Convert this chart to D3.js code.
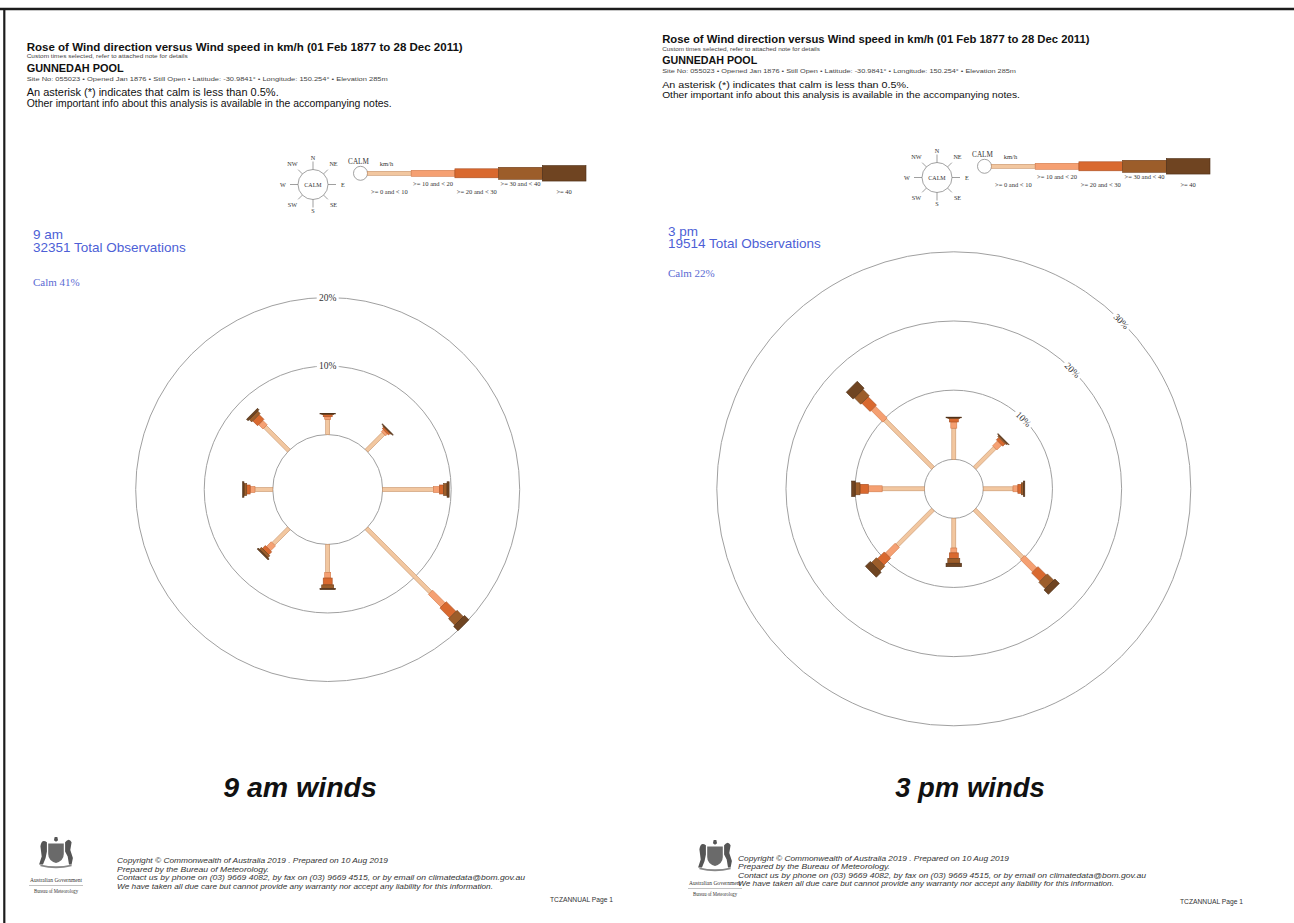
<!DOCTYPE html>
<html>
<head>
<meta charset="utf-8">
<title>Gunnedah Pool wind roses</title>
<script src="https://cdn.jsdelivr.net/npm/d3@7"></script>
<style>
  html, body { margin: 0; padding: 0; background: #fff; }
  svg { display: block; }
</style>
</head>
<body>
<svg id="chart" width="1294" height="923"></svg>
<script>
// ---- Data -------------------------------------------------------------
const directions = ["N", "NE", "E", "SE", "S", "SW", "W", "NW"];
const speedClasses = [">= 0 and < 10", ">= 10 and < 20", ">= 20 and < 30", ">= 30 and < 40", ">= 40"];

// Percentage of observations for each direction, split by speed class (km/h)
const wind9am = [
  [2.2, 0.4, 0.3, 0.1, 0.1],   // N
  [3.5, 0.4, 0.3, 0.1, 0.1],   // NE
  [7.4, 0.9, 0.6, 0.5, 0.3],   // E
  [13.2, 2.6, 2.0, 1.3, 0.9],  // SE
  [4.1, 0.8, 1.0, 0.5, 0.2],   // S
  [3.2, 1.0, 0.6, 0.4, 0.2],   // SW
  [2.6, 0.7, 0.5, 0.4, 0.2],   // W
  [4.9, 0.9, 1.0, 0.5, 0.3]    // NW
];
const wind3pm = [
  [4.5, 0.9, 0.5, 0.1, 0.1],   // N
  [4.1, 1.0, 0.5, 0.2, 0.1],   // NE
  [4.3, 0.7, 0.5, 0.3, 0.2],   // E
  [9.8, 2.5, 1.7, 1.3, 0.9],   // SE
  [4.3, 0.7, 0.8, 0.7, 0.5],   // S
  [7.3, 2.0, 1.4, 1.0, 1.0],   // SW
  [6.1, 2.0, 1.2, 0.7, 0.5],   // W
  [9.8, 2.4, 1.7, 1.3, 1.4]    // NW
];
const calmPct = [41, 22];
const totalObs = [32351, 19514];
const periodLabels = ["9 am", "3 pm"];
const panelTitles = ["9 am winds", "3 pm winds"];
const rings9am = [10, 20];
const rings3pm = [10, 20, 30];

const headerText = [
  "Rose of Wind direction versus Wind speed in km/h (01 Feb 1877 to 28 Dec 2011)",
  "Custom times selected, refer to attached note for details",
  "GUNNEDAH POOL",
  "Site No: 055023 \u2022 Opened Jan 1876 \u2022 Still Open  \u2022 Latitude: -30.9841\u00b0 \u2022 Longitude: 150.254\u00b0 \u2022 Elevation 285m",
  "An asterisk (*) indicates that calm is less than 0.5%.",
  "Other important info about this analysis is available in the accompanying notes."
];
const footerText = [
  "Copyright \u00a9 Commonwealth of Australia 2019 . Prepared on 10 Aug 2019",
  "Prepared by the Bureau of Meteorology.",
  "Contact us by phone on (03) 9669 4082, by fax on (03) 9669 4515, or by email on climatedata@bom.gov.au",
  "We have taken all due care but cannot provide any warranty nor accept any liability for this information."
];

// ---- Styles -----------------------------------------------------------
const SANS = "'Liberation Sans', Arial, Helvetica, sans-serif";
const SERIF = "'Liberation Serif', 'Times New Roman', serif";
const classFill = ["#f2c7a0", "#f5a072", "#d9692f", "#9c5d2a", "#6f4421"];
const classStroke = ["#c8936a", "#d27b4a", "#a84e22", "#6e3f1b", "#4a2c14"];
const classWidth = [4, 6, 9, 12, 15.5];
const ringColour = "#a0a0a0";
const blue = "#4d5fd6";

const svg = d3.select("#chart");

// page frame
svg.append("line").attr("x1", 0).attr("x2", 1294).attr("y1", 9).attr("y2", 9)
  .attr("stroke", "#1c1c1c").attr("stroke-width", 2.6);
svg.append("line").attr("x1", 4.3).attr("x2", 4.3).attr("y1", 8).attr("y2", 923)
  .attr("stroke", "#1c1c1c").attr("stroke-width", 2.2);

// radius of the calm circle is proportional to the calm percentage
const calmScale = d3.scaleLinear().domain([0, 100]).range([0, 134]);

// ---- Header title block -------------------------------------------------
function drawTitleBlock(g) {
  const x0 = 26.7;
  const lines = [
    { y: 50.5, size: 11,  weight: "bold",   len: 436 },
    { y: 58,   size: 5.5, weight: "normal", len: 161 },
    { y: 71.5, size: 11,  weight: "bold",   len: 97 },
    { y: 81,   size: 5.5, weight: "normal", len: 361 },
    { y: 96,   size: 10,  weight: "normal", len: 252 },
    { y: 106.5,size: 10,  weight: "normal", len: 365 }
  ];
  headerText.forEach((t, i) => {
    const L = lines[i];
    g.append("text").attr("x", x0).attr("y", L.y)
      .attr("font-family", SANS).attr("font-size", L.size).attr("font-weight", L.weight)
      .attr("fill", i === 1 || i === 3 ? "#444" : "#111")
      .attr("textLength", L.len).attr("lengthAdjust", "spacingAndGlyphs")
      .text(t);
  });
}

// ---- Legend: compass key and speed class key ---------------------------
function drawLegend(g) {
  const kx = 313, ky = 184.5, kr = 15;
  const key = g.append("g").attr("transform", `translate(${kx},${ky})`);
  key.append("circle").attr("r", kr).attr("fill", "#fff").attr("stroke", "#8a8a8a").attr("stroke-width", 0.8);
  key.append("text").attr("text-anchor", "middle").attr("dy", "0.35em")
    .attr("font-family", SERIF).attr("font-size", 6).attr("fill", "#333").text("CALM");
  directions.forEach((d, i) => {
    const a = i * Math.PI / 4;
    const sx = Math.sin(a), sy = -Math.cos(a);
    const cardinal = i % 2 === 0;
    const tick = cardinal ? 23 : 21;
    const lab = cardinal ? (i % 4 === 0 ? 26.5 : 30) : 29;
    key.append("line").attr("x1", sx * kr).attr("y1", sy * kr)
      .attr("x2", sx * tick).attr("y2", sy * tick).attr("stroke", "#777").attr("stroke-width", 0.7);
    key.append("text").attr("x", sx * lab).attr("y", sy * lab).attr("dy", "0.35em")
      .attr("text-anchor", "middle").attr("font-family", SERIF).attr("font-size", 6.2)
      .attr("fill", "#333").text(d);
  });

  const bx = d3.scaleBand().domain(speedClasses).range([367.5, 586]).padding(0);
  const by = 173.3;
  g.append("circle").attr("cx", 360.5).attr("cy", by).attr("r", 7)
    .attr("fill", "#fff").attr("stroke", "#8a8a8a").attr("stroke-width", 0.8);
  g.append("text").attr("x", 358.5).attr("y", 163.5).attr("text-anchor", "middle")
    .attr("font-family", SERIF).attr("font-size", 7.2).attr("fill", "#333").text("CALM");
  g.append("text").attr("x", 386.5).attr("y", 165.5).attr("text-anchor", "middle")
    .attr("font-family", SERIF).attr("font-size", 6.5).attr("fill", "#333").text("km/h");
  speedClasses.forEach((c, j) => {
    g.append("rect").attr("x", bx(c)).attr("y", by - classWidth[j] / 2)
      .attr("width", bx.bandwidth()).attr("height", classWidth[j])
      .attr("fill", classFill[j]).attr("stroke", classStroke[j]).attr("stroke-width", 0.6);
    g.append("text").attr("x", bx(c) + bx.bandwidth() / 2).attr("y", j % 2 === 0 ? 194 : 186)
      .attr("text-anchor", "middle").attr("font-family", SERIF).attr("font-size", 6.5)
      .attr("fill", "#333").text(c);
  });
}

// ---- Wind rose ---------------------------------------------------------
function drawRose(g, cx, cy, data, calm, rings, outerR, labelAngle) {
  const calmR = calmScale(calm);
  const r = d3.scaleLinear().domain([0, d3.max(rings)]).range([calmR, outerR]);

  rings.forEach(t => {
    g.append("circle").attr("cx", cx).attr("cy", cy).attr("r", r(t))
      .attr("fill", "none").attr("stroke", ringColour).attr("stroke-width", 1);
  });
  g.append("circle").attr("cx", cx).attr("cy", cy).attr("r", calmR)
    .attr("fill", "#fff").attr("stroke", ringColour).attr("stroke-width", 1);

  data.forEach((vals, i) => {
    const arm = g.append("g").attr("transform", `translate(${cx},${cy}) rotate(${i * 45})`);
    const cum = d3.cumsum(vals);
    vals.forEach((v, j) => {
      const r0 = r(j === 0 ? 0 : cum[j - 1]);
      const r1 = r(cum[j]);
      arm.append("rect").attr("x", -classWidth[j] / 2).attr("y", -r1)
        .attr("width", classWidth[j]).attr("height", Math.max(0, r1 - r0))
        .attr("fill", classFill[j]).attr("stroke", classStroke[j]).attr("stroke-width", 0.6);
    });
  });

  // ring labels, set into a gap of the ring
  rings.forEach(t => {
    const R = r(t), a = labelAngle * Math.PI / 180;
    const lg = g.append("g")
      .attr("transform", `translate(${cx + R * Math.sin(a)},${cy - R * Math.cos(a)}) rotate(${labelAngle})`);
    lg.append("rect").attr("x", -11).attr("y", -5).attr("width", 22).attr("height", 10).attr("fill", "#fff");
    lg.append("text").attr("text-anchor", "middle").attr("dy", "0.35em")
      .attr("font-family", SERIF).attr("font-size", 9.5).attr("fill", "#333").text(t + "%");
  });
}

// ---- Footer ------------------------------------------------------------
function drawCrest(g, x, y) {
  const c = g.append("g").attr("transform", `translate(${x},${y - 2}) scale(1.3)`).attr("fill", "#555");
  c.append("path").attr("d", "M-1,-13 L1,-13 L1.6,-10.5 L0,-9.5 L-1.6,-10.5 Z");
  c.append("path").attr("d", "M-6,-8 L6,-8 L6,0 Q6,5 0,7 Q-6,5 -6,0 Z").attr("fill", "#6a6a6a");
  c.append("path").attr("d", "M-7,-9 Q-11,-12 -12,-6 L-11,2 L-13,8 L-10,8 L-8,3 L-7,-2 Z");
  c.append("path").attr("d", "M7,-9 Q10,-13 12,-9 L11,-3 L13,3 L12,8 L10,8 L9,2 L7,-2 Z");
  c.append("path").attr("d", "M-12,8 Q0,11 12,8 L12,9.5 Q0,12.5 -12,9.5 Z").attr("fill", "#888");
  g.append("text").attr("x", x).attr("y", y + 26).attr("text-anchor", "middle")
    .attr("font-family", SERIF).attr("font-size", 5.2).attr("fill", "#333")
    .attr("textLength", 52).attr("lengthAdjust", "spacingAndGlyphs").text("Australian Government");
  g.append("line").attr("x1", x - 27).attr("x2", x + 27).attr("y1", y + 29.5).attr("y2", y + 29.5)
    .attr("stroke", "#999").attr("stroke-width", 0.6);
  g.append("text").attr("x", x).attr("y", y + 37).attr("text-anchor", "middle")
    .attr("font-family", SERIF).attr("font-size", 5.2).attr("fill", "#333")
    .attr("textLength", 44).attr("lengthAdjust", "spacingAndGlyphs").text("Bureau of Meteorology");
}

function drawFooter(g, fx, fy, pageX, pageY, crestX, crestY) {
  const lens = [271, 152, 408, 376];
  footerText.forEach((t, i) => {
    g.append("text").attr("x", fx).attr("y", fy + i * 8.5)
      .attr("font-family", SANS).attr("font-size", 8).attr("font-style", "italic")
      .attr("fill", "#333").attr("textLength", lens[i]).attr("lengthAdjust", "spacingAndGlyphs")
      .text(t);
  });
  g.append("text").attr("x", pageX).attr("y", pageY)
    .attr("font-family", SANS).attr("font-size", 7.5).attr("fill", "#333")
    .attr("textLength", 63).attr("lengthAdjust", "spacingAndGlyphs").text("TCZANNUAL Page 1");
  drawCrest(g, crestX, crestY);
}

// ---- Panels ------------------------------------------------------------
const panels = [
  { data: wind9am, rings: rings9am, header: "translate(0,0)", legend: "translate(0,0)",
    cx: 327.7, cy: 489.5, outerR: 192, labelAngle: 0,
    tx: 33, ty: 239, calmX: 33, calmY: 285.5, titleX: 300, titleSize: 28.5,
    foot: [117, 863, 550, 902, 56, 856] },
  { data: wind3pm, rings: rings3pm, header: "translate(636,-6) scale(0.98)", legend: "translate(624,-7)",
    cx: 953.8, cy: 488.8, outerR: 237, labelAngle: 45,
    tx: 668, ty: 235.5, calmX: 668, calmY: 277, titleX: 970, titleSize: 27.5,
    foot: [738, 860.5, 1180, 904, 715, 859] }
];

panels.forEach((p, k) => {
  const g = svg.append("g");
  drawTitleBlock(g.append("g").attr("transform", p.header));
  drawLegend(g.append("g").attr("transform", p.legend));

  g.append("text").attr("x", p.tx).attr("y", p.ty)
    .attr("font-family", SANS).attr("font-size", 13.5).attr("fill", blue).text(periodLabels[k]);
  g.append("text").attr("x", p.tx).attr("y", p.ty + 12.5)
    .attr("font-family", SANS).attr("font-size", 13.5).attr("fill", blue)
    .text(`${totalObs[k]} Total Observations`);
  g.append("text").attr("x", p.calmX).attr("y", p.calmY)
    .attr("font-family", SERIF).attr("font-size", 11).attr("fill", "#5b6bd3")
    .text(`Calm ${calmPct[k]}%`);

  drawRose(g.append("g"), p.cx, p.cy, p.data, calmPct[k], p.rings, p.outerR, p.labelAngle);

  g.append("text").attr("x", p.titleX).attr("y", 797).attr("text-anchor", "middle")
    .attr("font-family", SANS).attr("font-size", p.titleSize).attr("font-weight", "bold")
    .attr("font-style", "italic").attr("fill", "#111").text(panelTitles[k]);

  drawFooter(g, ...p.foot);
});
</script>
</body>
</html>
